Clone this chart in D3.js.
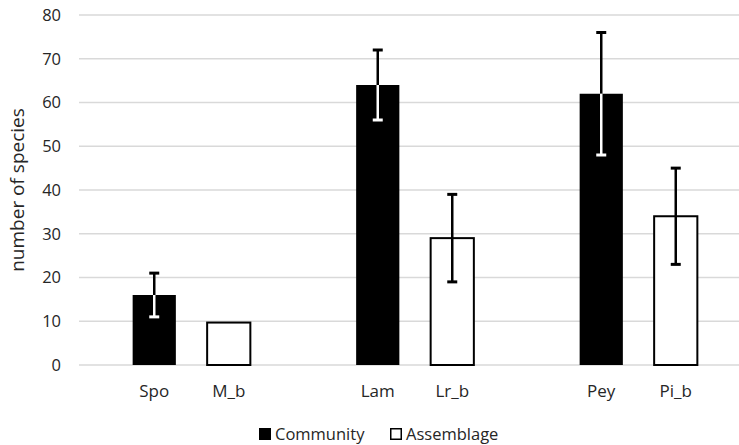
<!DOCTYPE html>
<html>
<head>
<meta charset="utf-8">
<script src="https://cdn.jsdelivr.net/npm/d3@7"></script>
<style>
  body { margin: 0; background: #fff; }
  text { font-family: "Open Sans", "DejaVu Sans", sans-serif; fill: #262626; }
</style>
</head>
<body>
<div id="container"></div>
<script>
// categories (blank slots are the gaps between the sites)
const categories = ['Spo', 'M_b', '', 'Lam', 'Lr_b', ' ', 'Pey', 'Pi_b'];
const groups = ['Community', 'Assemblage', null, 'Community', 'Assemblage', null, 'Community', 'Assemblage'];
const values = [16, 9.7, null, 64, 29, null, 62, 34];
const errors = [5, 0, null, 8, 10, null, 14, 11];
const yTicks = [0, 10, 20, 30, 40, 50, 60, 70, 80];
const legendItems = ['Community', 'Assemblage'];

const width = 739;
const height = 445;

const svg = d3.select('#container').append('svg')
    .attr('width', width)
    .attr('height', height);

//Y-Scale
const yScale = d3.scaleLinear().domain([0, 80]).range([365, 15]);

//X-Scale
const xScale = d3.scaleBand()
    .domain(categories)
    .range([117, 713])
    .paddingInner(0.42)
    .paddingOuter(0.21);

//Gridlines
svg.append('g')
    .selectAll('line')
    .data(yTicks)
    .enter()
    .append('line')
    .attr('x1', 79)
    .attr('x2', width)
    .attr('y1', d => yScale(d))
    .attr('y2', d => yScale(d))
    .attr('stroke', '#d9d9d9')
    .attr('stroke-width', 1.5);

//Y tick labels
svg.append('g')
    .selectAll('text')
    .data(yTicks)
    .enter()
    .append('text')
    .attr('x', 61)
    .attr('y', d => yScale(d))
    .attr('dy', '0.35em')
    .attr('text-anchor', 'end')
    .style('font-size', '16.5px')
    .text(d => d);

//Y title
svg.append('text')
    .attr('transform', 'translate(17,190) rotate(-90)')
    .attr('text-anchor', 'middle')
    .attr('dy', '0.35em')
    .style('font-size', '19px')
    .text('number of species');

const data = categories.map((c, i) => ({
    cat: c, group: groups[i], value: values[i], err: errors[i]
})).filter(d => d.value !== null);

//Bars
svg.append('g')
    .selectAll('rect')
    .data(data)
    .enter()
    .append('rect')
    .attr('x', d => xScale(d.cat))
    .attr('y', d => yScale(d.value))
    .attr('width', xScale.bandwidth())
    .attr('height', d => yScale(0) - yScale(d.value))
    .attr('fill', d => d.group === 'Community' ? '#000' : '#fff')
    .attr('stroke', '#000')
    .attr('stroke-width', d => d.group === 'Community' ? 0 : 2);

//Error bars: white inside the black bar, black above it
const capW = 10;
const errG = svg.append('g');
data.filter(d => d.err > 0).forEach(d => {
    const cx = xScale(d.cat) + xScale.bandwidth() / 2;
    const inside = d.group === 'Community' ? '#fff' : '#000';
    // upper part
    errG.append('line')
        .attr('x1', cx).attr('x2', cx)
        .attr('y1', yScale(d.value)).attr('y2', yScale(d.value + d.err))
        .attr('stroke', '#000').attr('stroke-width', 2.5);
    errG.append('line')
        .attr('x1', cx - capW / 2).attr('x2', cx + capW / 2)
        .attr('y1', yScale(d.value + d.err)).attr('y2', yScale(d.value + d.err))
        .attr('stroke', '#000').attr('stroke-width', 3);
    // lower part
    errG.append('line')
        .attr('x1', cx).attr('x2', cx)
        .attr('y1', yScale(d.value)).attr('y2', yScale(d.value - d.err))
        .attr('stroke', inside).attr('stroke-width', 2.5);
    errG.append('line')
        .attr('x1', cx - capW / 2).attr('x2', cx + capW / 2)
        .attr('y1', yScale(d.value - d.err)).attr('y2', yScale(d.value - d.err))
        .attr('stroke', inside).attr('stroke-width', 3);
});

//Category labels
svg.append('g')
    .selectAll('text')
    .data(categories.filter(c => c.trim() !== ''))
    .enter()
    .append('text')
    .attr('x', d => xScale(d) + xScale.bandwidth() / 2)
    .attr('y', 397)
    .attr('text-anchor', 'middle')
    .style('font-size', '17px')
    .text(d => d);

//Legend
const legendX = [259, 390];
const legend = svg.append('g')
    .selectAll('g')
    .data(legendItems)
    .enter()
    .append('g')
    .attr('transform', (d, i) => 'translate(' + legendX[i] + ',428)');

legend.append('rect')
    .attr('x', 0.75)
    .attr('y', 0.75)
    .attr('width', 10.5)
    .attr('height', 10.5)
    .attr('fill', d => d === 'Community' ? '#000' : '#fff')
    .attr('stroke', '#000')
    .attr('stroke-width', 1.5);

legend.append('text')
    .attr('x', 16)
    .attr('y', 6)
    .attr('dy', '0.35em')
    .style('font-size', '16.5px')
    .text(d => d);
</script>
</body>
</html>
